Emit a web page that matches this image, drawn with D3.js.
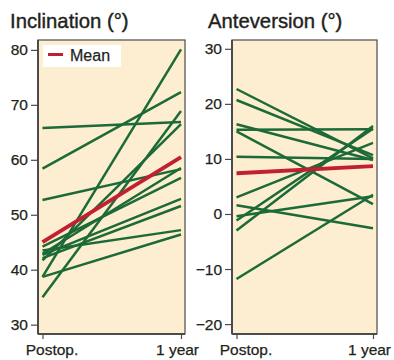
<!DOCTYPE html>
<html>
<head>
<meta charset="utf-8">
<script src="https://cdn.jsdelivr.net/npm/d3@7"></script>
<style>
  body { margin: 0; background: #fff; }
  svg { display: block; font-family: "Liberation Sans", Arial, sans-serif; }
</style>
</head>
<body>
<svg id="chart" width="394" height="360"></svg>
<script>
// time points on the x axis
const timepoints = ["Postop.", "1 year"];

// inclination (degrees), one pair per patient: [postop, 1 year]
const inclinationPatients = [
  [65.8, 66.9], [58.4, 72.3], [52.7, 58.3], [38.7, 80.1],
  [35.0, 68.9], [41.7, 66.5], [38.7, 46.4], [43.5, 47.2],
  [44.2, 56.7], [42.9, 58.5], [42.7, 52.9], [42.1, 51.6]
];
const inclinationMean = [45.0, 60.5];
const inclinationTicks = [30, 40, 50, 60, 70, 80];

// anteversion (degrees)
const anteversionPatients = [
  [22.7, 10.1], [20.7, 10.7], [16.3, 9.8], [15.3, 15.4],
  [15.0, 1.8], [10.4, 10.0], [3.0, 12.9], [1.6, -2.6],
  [-0.4, 3.2], [-1.2, 15.5], [-3.0, 16.0], [-11.8, 3.5]
];
const anteversionMean = [7.4, 8.7];
const anteversionTicks = [-20, -10, 0, 10, 20, 30];

const bg = "#fdedd1", green = "#1c6a37", red = "#c0202f", ink = "#231f20", frame = "#4b4b4b";
const plotTop = 40, plotBottom = 334;

const svg = d3.select("#chart");

const panels = [
  { title: "Inclination (°)", titleX: 10, x0: 38, x1: 185, domain: [28.3, 81.8],
    ticks: inclinationTicks, patients: inclinationPatients, mean: inclinationMean, legend: true },
  { title: "Anteversion (°)", titleX: 208, x0: 232, x1: 377, domain: [-21.8, 31.6],
    ticks: anteversionTicks, patients: anteversionPatients, mean: anteversionMean, legend: false }
];

panels.forEach(p => {
  const g = svg.append("g");

  const x = d3.scalePoint().domain(timepoints).range([p.x0 + 4.5, p.x1 - 4]);
  const y = d3.scaleLinear().domain(p.domain).range([plotBottom, plotTop]);

  g.append("text")
    .attr("x", p.titleX).attr("y", 28)
    .attr("font-size", 20.3).attr("fill", ink)
    .attr("stroke", ink).attr("stroke-width", 0.4)
    .text(p.title);

  g.append("rect")
    .attr("x", p.x0).attr("y", plotTop)
    .attr("width", p.x1 - p.x0).attr("height", plotBottom - plotTop)
    .attr("fill", bg).attr("stroke", frame).attr("stroke-width", 1.2);

  const line = d3.line().x((d, i) => x(timepoints[i])).y(d => y(d));

  g.append("g").selectAll("path")
    .data(p.patients)
    .join("path")
    .attr("d", line)
    .attr("fill", "none")
    .attr("stroke", green)
    .attr("stroke-width", 2.5);

  g.append("path")
    .attr("d", line(p.mean))
    .attr("fill", "none")
    .attr("stroke", red)
    .attr("stroke-width", 3.8);

  // y axis
  const yAxis = g.append("g")
    .attr("transform", `translate(${p.x0},0)`)
    .call(d3.axisLeft(y).tickValues(p.ticks).tickSize(7).tickPadding(3));
  yAxis.select(".domain").attr("stroke", frame).attr("stroke-width", 2)
    .attr("d", `M0,${plotTop}V${plotBottom}`);
  yAxis.selectAll(".tick line").attr("stroke", frame).attr("stroke-width", 1.2);
  yAxis.selectAll(".tick text").attr("font-size", 15.5).attr("fill", ink)
    .attr("stroke", ink).attr("stroke-width", 0.25)
    .attr("font-family", null);

  // x axis
  const xAxis = g.append("g")
    .attr("transform", `translate(0,${plotBottom})`)
    .call(d3.axisBottom(x).tickSize(5).tickPadding(5));
  xAxis.select(".domain").attr("stroke", frame).attr("stroke-width", 2)
    .attr("d", `M${p.x0},0H${p.x1}`);
  xAxis.selectAll(".tick line").attr("stroke", frame).attr("stroke-width", 1.2);
  xAxis.selectAll(".tick text").attr("font-size", 15.5).attr("fill", ink)
    .attr("stroke", ink).attr("stroke-width", 0.25)
    .attr("font-family", null)
    .attr("dx", d => d === timepoints[0] ? 9 : -4);

  if (p.legend) {
    const lg = g.append("g");
    lg.append("rect").attr("x", 43).attr("y", 45).attr("width", 78).attr("height", 22)
      .attr("fill", "#fff");
    lg.append("line").attr("x1", 48).attr("x2", 63).attr("y1", 54.5).attr("y2", 54.5)
      .attr("stroke", red).attr("stroke-width", 3);
    lg.append("text").attr("x", 70).attr("y", 61).attr("font-size", 16)
      .attr("fill", ink).attr("stroke", ink).attr("stroke-width", 0.25).text("Mean");
  }
});
</script>
</body>
</html>
